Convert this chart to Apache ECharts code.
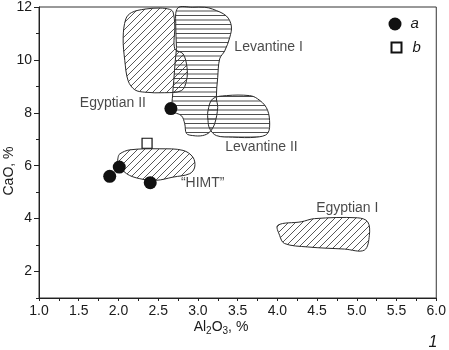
<!DOCTYPE html>
<html>
<head>
<meta charset="utf-8">
<script src="https://cdn.jsdelivr.net/npm/echarts@6/dist/echarts.min.js"></script>
<style>html,body{margin:0;padding:0;background:#fff}#c{width:449px;height:350px}</style>
</head>
<body>
<div id="c"></div>
<script>
// ---- data ----
const pointsA = [[2.66, 8.16], [2.01, 5.95], [1.89, 5.60], [2.40, 5.36]];
const pointsB = [[2.36, 6.85]];

const egyptianII = [[2.165,11.79],[2.332,11.92],[2.52,11.96],[2.646,11.91],[2.687,11.81],[2.709,11.28],[2.709,10.42],[2.813,10.23],[2.863,9.71],[2.856,9.21],[2.793,8.84],[2.583,8.76],[2.332,8.78],[2.206,8.87],[2.122,9.21],[2.08,9.97],[2.059,10.84],[2.093,11.55]];
const levantineI = [[2.746,11.96],[2.935,11.99],[3.085,11.99],[3.186,11.92],[3.358,11.66],[3.421,11.28],[3.40,10.84],[3.337,10.34],[3.274,10.04],[3.249,9.33],[3.232,8.58],[3.249,8.20],[3.211,7.59],[3.148,7.27],[3.06,7.14],[2.935,7.14],[2.856,7.22],[2.834,7.59],[2.793,7.89],[2.683,8.08],[2.683,8.72],[2.696,9.21],[2.715,9.97],[2.73,10.47],[2.721,11.28]];
const levantineII = [[3.127,8.08],[3.186,8.53],[3.358,8.65],[3.651,8.65],[3.751,8.53],[3.861,8.20],[3.902,7.71],[3.877,7.22],[3.735,7.08],[3.437,7.08],[3.232,7.14],[3.148,7.40],[3.127,7.71]];
const himt = [[2.018,6.45],[2.143,6.60],[2.52,6.64],[2.813,6.58],[2.938,6.32],[2.96,5.95],[2.897,5.70],[2.687,5.57],[2.479,5.45],[2.269,5.51],[2.102,5.70],[1.996,6.08],[1.996,6.32]];
const egyptianI = [[4.006,3.75],[4.30,3.88],[4.467,4.00],[5.011,4.03],[5.137,3.88],[5.158,3.37],[5.095,2.81],[4.844,2.85],[4.383,2.93],[4.09,3.06],[4.028,3.37]];

const regionNames = ['Levantine I', 'Egyptian II', 'Levantine II', '\u201cHIMT\u201d', 'Egyptian I'];
const regionLabelPos = [[3.89,10.49],[1.93,8.38],[3.80,6.69],[3.06,5.33],[4.88,4.39]];

const xMin = 1, xMax = 6, xStep = 0.5;
const yMin = 1, yMax = 12;
const yTickLabels = [2, 4, 6, 8, 10, 12];
const yMinorTicks = [1, 3, 5, 7, 9, 11];

// ---- patterns ----
function diagPattern() {
  const s = 7, c = document.createElement('canvas');
  c.width = s; c.height = s;
  const g = c.getContext('2d');
  g.strokeStyle = '#3a3a3a'; g.lineWidth = 0.85;
  g.beginPath();
  g.moveTo(0, s); g.lineTo(s, 0);
  g.moveTo(-1, 1); g.lineTo(1, -1);
  g.moveTo(s - 1, s + 1); g.lineTo(s + 1, s - 1);
  g.stroke();
  return { image: c, repeat: 'repeat' };
}
function horizPattern() {
  const c = document.createElement('canvas');
  c.width = 8; c.height = 9;
  const g = c.getContext('2d');
  g.strokeStyle = '#3a3a3a'; g.lineWidth = 0.9;
  g.beginPath();
  g.moveTo(0, 2); g.lineTo(8, 2);
  g.moveTo(0, 6.5); g.lineTo(8, 6.5);
  g.stroke();
  return { image: c, repeat: 'repeat' };
}
const diag = diagPattern(), horiz = horizPattern();

function region(name, pts, fill) {
  return {
    type: 'custom', name: name, data: pts, silent: true, z: 1,
    renderItem: function (params, api) {
      if (params.dataIndex !== 0) return;
      const points = pts.map(p => api.coord(p));
      return { type: 'polygon', shape: { points: points, smooth: 0.35 },
        style: { fill: fill, stroke: '#2a2a2a', lineWidth: 1 } };
    }
  };
}

const FONT = 'Liberation Sans, Arial, sans-serif';
const chart = echarts.init(document.getElementById('c'));
chart.setOption({
  animation: false,
  backgroundColor: '#fff',
  textStyle: { fontFamily: FONT },
  grid: { left: 39, right: 12, top: 6, bottom: 52, show: true, borderColor: '#333', borderWidth: 1 },
  xAxis: {
    type: 'value', min: xMin, max: xMax, interval: xStep,
    axisLine: { lineStyle: { color: '#222' } },
    axisTick: { length: 3, lineStyle: { color: '#222' } },
    minorTick: { show: true, splitNumber: 2, length: 3, lineStyle: { color: '#222' } },
    splitLine: { show: false },
    axisLabel: { color: '#1a1a1a', fontSize: 14, margin: 6, formatter: v => v.toFixed(1) }
  },
  yAxis: [{
    type: 'value', min: yMin, max: yMax, interval: 1,
    axisLine: { show: true, lineStyle: { color: '#222' } },
    axisTick: { show: true, length: 5, customValues: yTickLabels, lineStyle: { color: '#222' } },
    splitLine: { show: false },
    axisLabel: { color: '#1a1a1a', fontSize: 14, margin: 7, customValues: yTickLabels }
  }, {
    type: 'value', min: yMin, max: yMax, interval: 1, position: 'left',
    axisLine: { show: false },
    axisTick: { show: true, length: 3, customValues: yMinorTicks, lineStyle: { color: '#222' } },
    splitLine: { show: false },
    axisLabel: { show: false }
  }],
  legend: [{
    data: ['a'], orient: 'vertical', left: 388.5, top: 16.5, padding: 0,
    itemWidth: 13, itemHeight: 13,
    textStyle: { fontSize: 15, fontStyle: 'italic', color: '#1a1a1a', padding: [0, 0, 0, 4] }
  }, {
    data: ['b'], orient: 'vertical', left: 390.5, top: 40, padding: 0,
    itemWidth: 10, itemHeight: 10,
    textStyle: { fontSize: 15, fontStyle: 'italic', color: '#1a1a1a', padding: [0, 0, 0, 6] }
  }],
  graphic: [
    { type: 'text', x: 9, y: 171, rotation: Math.PI / 2,
      style: { text: 'CaO, %', fontSize: 14, fontFamily: FONT, fill: '#1a1a1a', align: 'center', verticalAlign: 'middle' } },
    { type: 'text', x: 221, y: 327,
      style: { text: '{n|Al}{s|2}{n|O}{s|3}{n|, %}', fontFamily: FONT, fill: '#1a1a1a', align: 'center', verticalAlign: 'middle',
        rich: { n: { fontSize: 14, lineHeight: 18, fontFamily: FONT, fill: '#1a1a1a' },
                s: { fontSize: 10, lineHeight: 10, verticalAlign: 'bottom', fontFamily: FONT, fill: '#1a1a1a' } } } },
    { type: 'text', x: 433, y: 343,
      style: { text: '1', fontSize: 16, fontStyle: 'italic', fontFamily: FONT, fill: '#1a1a1a', align: 'center', verticalAlign: 'middle' } }
  ],
  series: [
    region('Egyptian II', egyptianII, diag),
    region('Levantine I', levantineI, horiz),
    region('Levantine II', levantineII, horiz),
    region('HIMT', himt, diag),
    region('Egyptian I', egyptianI, diag),
    {
      type: 'scatter', name: 'labels', silent: true, symbolSize: 0, z: 3,
      data: regionNames.map((n, i) => ({ name: n, value: regionLabelPos[i] })),
      label: { show: true, position: 'inside', formatter: p => p.name, fontSize: 14, color: '#1a1a1a', fontFamily: FONT }
    },
    {
      type: 'scatter', name: 'a', data: pointsA, symbol: 'circle', symbolSize: 13, z: 5,
      itemStyle: { color: '#111', opacity: 1 }
    },
    {
      type: 'scatter', name: 'b', data: pointsB, symbol: 'rect', symbolSize: 10, z: 5,
      itemStyle: { color: '#fff', borderColor: '#111', borderWidth: 1.2, opacity: 1 }
    }
  ]
});
</script>
</body>
</html>
